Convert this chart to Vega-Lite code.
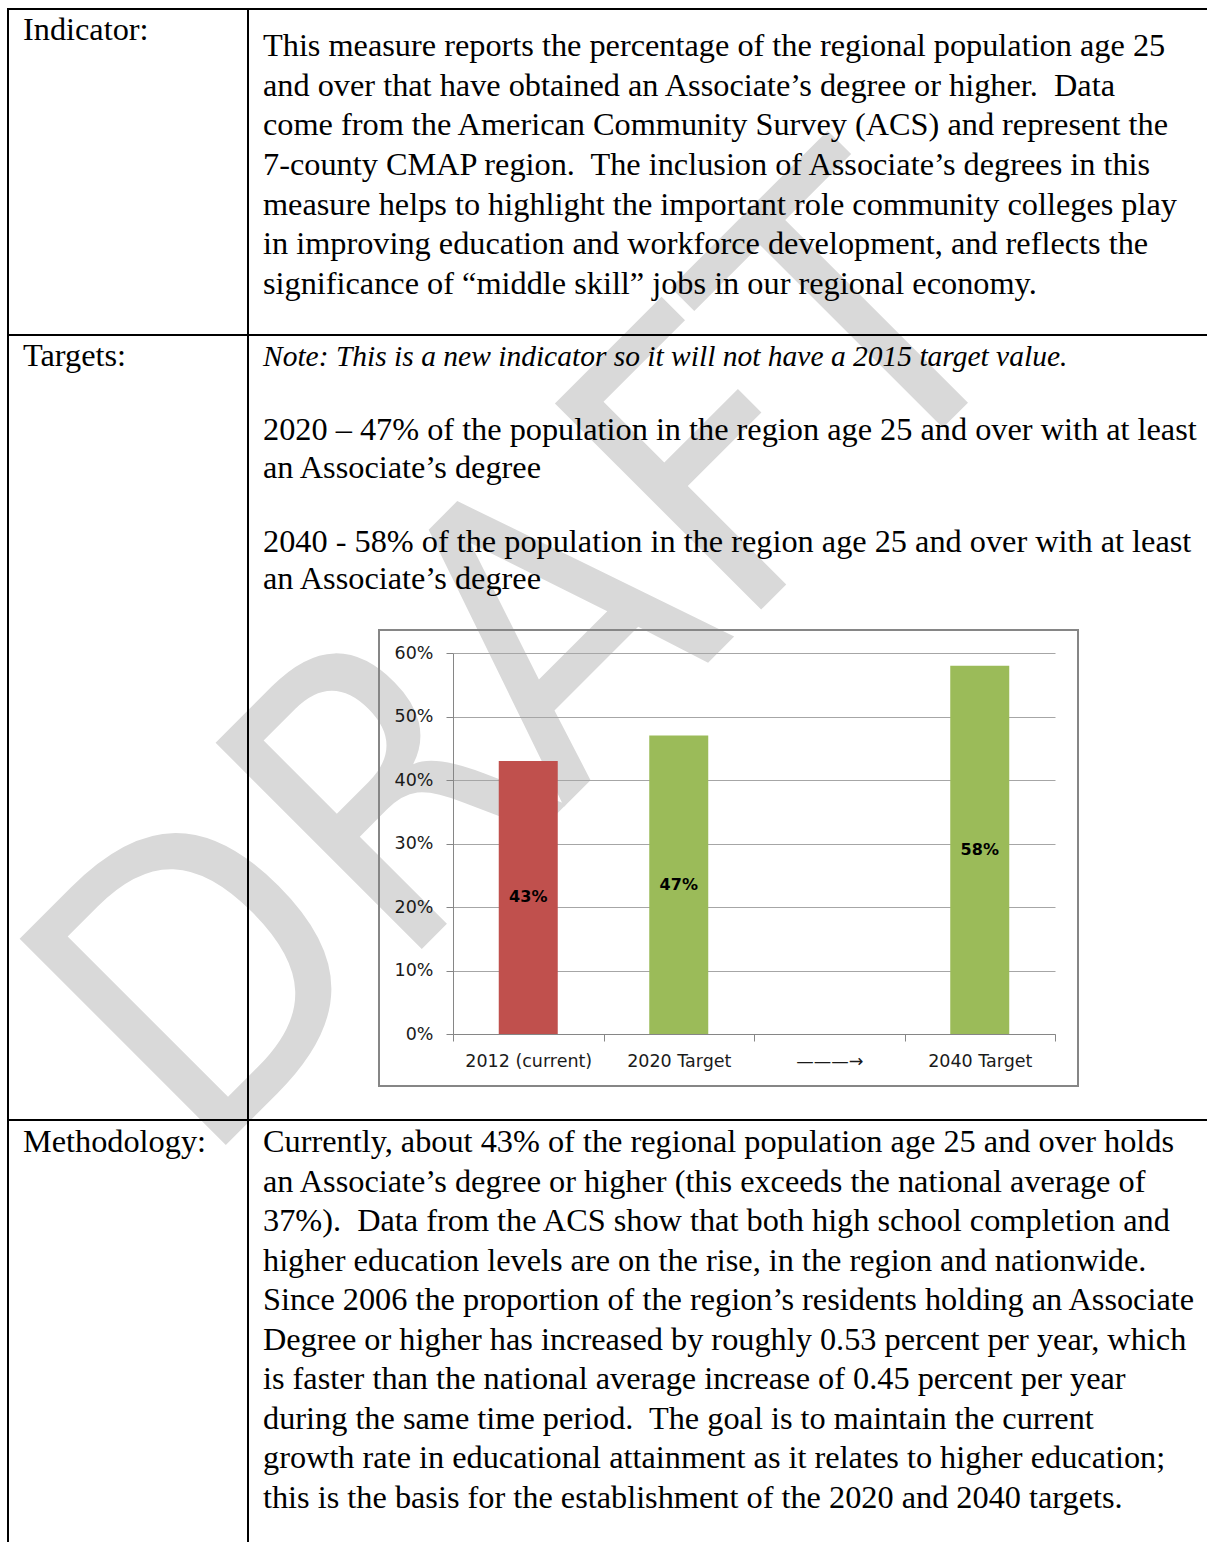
{
  "$schema": "https://vega.github.io/schema/vega-lite/v6.json",
  "background": "white",
  "padding": {"left": -27, "top": 8, "right": 0, "bottom": 0},
  "bounds": "flush",
  "spacing": 0,
  "columns": 2,
  "config": {
    "view": {"stroke": "#000000", "strokeWidth": 2},
    "text": {"font": "Liberation Serif", "fontSize": 32.3, "align": "left", "baseline": "alphabetic", "color": "#000000"},
    "concat": {"spacing": 0}
  },
  "concat": [
    {
      "width": 240, "height": 326,
      "layer": [
        {
          "data": {"values": [{"w": "DRAFT"}]},
          "mark": {"type": "text", "font": "Liberation Sans Narrow, DejaVu Sans Condensed, Roboto", "fontSize": 400, "angle": -45, "align": "center", "baseline": "middle", "color": "#d9d9d9"},
          "encoding": {"text": {"field": "w", "type": "nominal"}, "x": {"value": 524}, "y": {"value": 660}}
        },
        {
          "data": {"values": [{"line": 1, "t": "Indicator:"}]},
          "mark": {"type": "text"},
          "encoding": {
            "text": {"field": "t", "type": "nominal"},
            "x": {"value": 15},
            "y": {"field": "line", "type": "quantitative", "scale": {"domain": [0, 1], "range": [0, 31], "nice": false, "zero": false}, "axis": null}
          }
        }
      ]
    },
    {
      "width": 960, "height": 326,
      "data": {"values": [
        {"line": 1, "t": "This measure reports the percentage of the regional population age 25"},
        {"line": 2, "t": "and over that have obtained an Associate’s degree or higher.\u00a0 Data"},
        {"line": 3, "t": "come from the American Community Survey (ACS) and represent the"},
        {"line": 4, "t": "7-county CMAP region.\u00a0 The inclusion of Associate’s degrees in this"},
        {"line": 5, "t": "measure helps to highlight the important role community colleges play"},
        {"line": 6, "t": "in improving education and workforce development, and reflects the"},
        {"line": 7, "t": "significance of “middle skill” jobs in our regional economy."}
      ]},
      "mark": {"type": "text"},
      "encoding": {
        "text": {"field": "t", "type": "nominal"},
        "x": {"value": 15},
        "y": {"field": "line", "type": "quantitative", "scale": {"domain": [1, 7], "range": [47, 285], "nice": false, "zero": false}, "axis": null}
      }
    },
    {
      "width": 240, "height": 785,
      "data": {"values": [{"line": 1, "t": "Targets:"}]},
      "mark": {"type": "text"},
      "encoding": {
        "text": {"field": "t", "type": "nominal"},
        "x": {"value": 15},
        "y": {"field": "line", "type": "quantitative", "scale": {"domain": [0, 1], "range": [0, 31], "nice": false, "zero": false}, "axis": null}
      }
    },
    {
      "width": 960, "height": 785,
      "layer": [
        {
          "data": {"values": [{"line": 0, "t": "Note: This is a new indicator so it will not have a 2015 target value."}]},
          "mark": {"type": "text", "fontStyle": "italic", "fontSize": 29.5},
          "encoding": {
            "text": {"field": "t", "type": "nominal"},
            "x": {"value": 15},
            "y": {"field": "line", "type": "quantitative", "scale": {"domain": [0, 6], "range": [31, 254], "nice": false, "zero": false}, "axis": null}
          }
        },
        {
          "data": {"values": [
            {"line": 2, "t": "2020 – 47% of the population in the region age 25 and over with at least"},
            {"line": 3, "t": "an Associate’s degree"},
            {"line": 5, "t": "2040 - 58% of the population in the region age 25 and over with at least"},
            {"line": 6, "t": "an Associate’s degree"}
          ]},
          "mark": {"type": "text"},
          "encoding": {
            "text": {"field": "t", "type": "nominal"},
            "x": {"value": 15},
            "y": {"field": "line", "type": "quantitative", "scale": {"domain": [0, 6], "range": [31, 254], "nice": false, "zero": false}, "axis": null}
          }
        },
        {
          "data": {"values": [{"part": "chart area"}]},
          "mark": {"type": "rect", "filled": false, "stroke": "#868686", "strokeWidth": 2},
          "encoding": {"x": {"value": 131}, "x2": {"value": 830}, "y": {"value": 295}, "y2": {"value": 751}}
        },
        {
          "data": {"values": [
            {"cat": "2012 (current)", "value": 0.43, "kind": "current"},
            {"cat": "2020 Target", "value": 0.47, "kind": "target"},
            {"cat": "2040 Target", "value": 0.58, "kind": "target"}
          ]},
          "mark": {"type": "bar", "width": {"band": 0.392}},
          "encoding": {
            "x": {
              "field": "cat", "type": "nominal",
              "scale": {"domain": ["2012 (current)", "2020 Target", "———→", "2040 Target"], "range": [205, 807], "paddingInner": 0, "paddingOuter": 0},
              "axis": {"orient": "bottom", "offset": -86, "title": null, "tickBand": "extent", "labelAngle": 0, "labelFont": "DejaVu Sans", "labelFontSize": 17.5, "labelColor": "#1a1a1a", "labelPadding": 11, "tickSize": 7, "tickColor": "#868686", "domainColor": "#868686", "grid": false}
            },
            "y": {
              "field": "value", "type": "quantitative",
              "scale": {"domain": [0, 0.6], "range": [699, 318], "nice": false},
              "axis": {"orient": "left", "offset": -205, "title": null, "values": [0, 0.1, 0.2, 0.3, 0.4, 0.5, 0.6], "format": ".0%", "grid": true, "gridColor": "#a6a6a6", "gridWidth": 1, "tickSize": 7, "tickColor": "#868686", "domainColor": "#868686", "labelFont": "DejaVu Sans", "labelFontSize": 17.5, "labelColor": "#1a1a1a", "labelPadding": 13}
            },
            "color": {"field": "kind", "type": "nominal", "scale": {"domain": ["current", "target"], "range": ["#C0504D", "#9BBB59"]}, "legend": null}
          }
        },
        {
          "data": {"values": [
            {"cat": "2012 (current)", "value": 0.43},
            {"cat": "2020 Target", "value": 0.47},
            {"cat": "2040 Target", "value": 0.58}
          ]},
          "mark": {"type": "text", "font": "DejaVu Sans", "fontSize": 16, "fontWeight": "bold", "align": "center", "baseline": "middle", "color": "#000000"},
          "encoding": {
            "x": {"field": "cat", "type": "nominal", "scale": {"domain": ["2012 (current)", "2020 Target", "———→", "2040 Target"], "range": [205, 807], "paddingInner": 0, "paddingOuter": 0}},
            "y": {"field": "value", "type": "quantitative", "scale": {"domain": [0, 1.2], "range": [699, 318], "nice": false}, "axis": null},
            "text": {"field": "value", "type": "quantitative", "format": ".0%"}
          }
        }
      ],
      "resolve": {"scale": {"y": "independent"}}
    },
    {
      "width": 240, "height": 440,
      "data": {"values": [{"line": 1, "t": "Methodology:"}]},
      "mark": {"type": "text"},
      "encoding": {
        "text": {"field": "t", "type": "nominal"},
        "x": {"value": 15},
        "y": {"field": "line", "type": "quantitative", "scale": {"domain": [0, 1], "range": [0, 32], "nice": false, "zero": false}, "axis": null}
      }
    },
    {
      "width": 960, "height": 440,
      "data": {"values": [
        {"line": 1, "t": "Currently, about 43% of the regional population age 25 and over holds"},
        {"line": 2, "t": "an Associate’s degree or higher (this exceeds the national average of"},
        {"line": 3, "t": "37%).\u00a0 Data from the ACS show that both high school completion and"},
        {"line": 4, "t": "higher education levels are on the rise, in the region and nationwide."},
        {"line": 5, "t": "Since 2006 the proportion of the region’s residents holding an Associate"},
        {"line": 6, "t": "Degree or higher has increased by roughly 0.53 percent per year, which"},
        {"line": 7, "t": "is faster than the national average increase of 0.45 percent per year"},
        {"line": 8, "t": "during the same time period.\u00a0 The goal is to maintain the current"},
        {"line": 9, "t": "growth rate in educational attainment as it relates to higher education;"},
        {"line": 10, "t": "this is the basis for the establishment of the 2020 and 2040 targets."}
      ]},
      "mark": {"type": "text"},
      "encoding": {
        "text": {"field": "t", "type": "nominal"},
        "x": {"value": 15},
        "y": {"field": "line", "type": "quantitative", "scale": {"domain": [1, 10], "range": [32, 388], "nice": false, "zero": false}, "axis": null}
      }
    }
  ]
}
